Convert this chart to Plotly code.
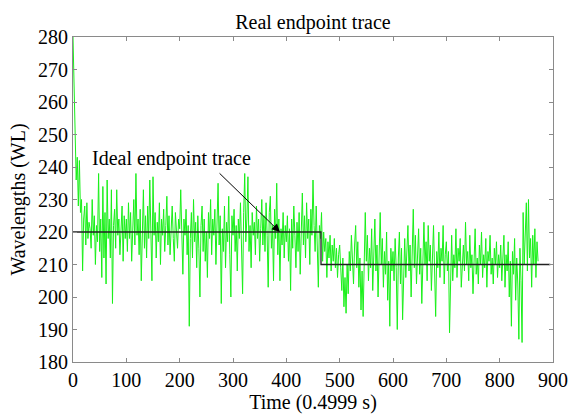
import plotly.graph_objects as go

# Real endpoint trace, sampled every 2 time units (0 .. 872)
time = list(range(0, 873, 2))
real = [
    # 0-98
    280, 265, 247, 236, 243, 228, 242, 226, 230, 208, 224, 228, 216, 229, 218, 223, 221, 215, 230, 219,
    225, 210, 222, 217, 238, 214, 224, 206, 234, 212, 226, 204, 236, 218, 224, 212, 233, 198, 222, 227,
    215, 233, 219, 224, 213, 221, 228, 211, 225, 218,
    # 100-198
    224, 214, 229, 218, 226, 211, 222, 230, 216, 238, 219, 224, 213, 227, 205, 221, 233, 215, 225, 212,
    228, 218, 236, 220, 205, 237, 219, 226, 212, 223, 217, 229, 210, 224, 219, 227, 214, 222, 231, 216,
    225, 213, 221, 228, 218, 211, 226, 220, 215, 224,
    # 200-298
    221, 233, 216, 207, 224, 219, 227, 213, 222, 191, 218, 226, 212, 230, 217, 223, 209, 225, 215, 200,
    222, 228, 214, 224, 211, 220, 206, 226, 218, 230, 213, 224, 219, 227, 210, 222, 235, 216, 225, 198,
    221, 214, 228, 209, 223, 217, 231, 213, 200, 225,
    # 300-398
    219, 227, 214, 222, 208, 224, 218, 229, 212, 201, 226, 238, 217, 224, 237, 214, 222, 209, 226, 219,
    223, 213, 228, 218, 224, 211, 221, 230, 216, 225, 214, 229, 219, 203, 226, 231, 215, 222, 205, 227,
    218, 235, 213, 224, 205, 221, 216, 226, 212, 222,
    # 400-498
    217, 225, 211, 221, 202, 224, 215, 228, 219, 209, 223, 214, 226, 207, 220, 232, 216, 225, 212, 229,
    218, 224, 210, 227, 219, 236, 222, 214, 228, 216, 203, 222, 218, 226, 211, 220, 214, 218, 206, 217,
    212, 219, 208, 216, 211, 218, 209, 215, 206, 213,
    # 500-598
    216, 209, 202, 212, 197, 206, 195, 210, 201, 214, 208, 219, 211, 204, 216, 222, 209, 217, 203, 212,
    196, 208, 194, 213, 226, 211, 219, 205, 215, 209, 221, 202, 213, 224, 208, 216, 200, 212, 226, 210,
    218, 203, 214, 207, 220, 199, 211, 191, 215, 208,
    # 600-698
    214, 205, 218, 209, 190, 212, 220, 204, 215, 193, 210, 218, 206, 214, 222, 208, 216, 200, 213, 227,
    209, 219, 204, 214, 221, 207, 215, 198, 212, 223, 210, 217, 205, 222, 211, 216, 202, 213, 222, 208,
    194, 214, 209, 220, 206, 215, 211, 222, 204, 213,
    # 700-798
    217, 208, 214, 189, 211, 219, 205, 213, 209, 221, 206, 215, 211, 218, 203, 212, 216, 208, 223, 210,
    214, 205, 219, 209, 213, 201, 215, 221, 207, 212, 204, 216, 210, 220, 206, 213, 209, 218, 203, 214,
    211, 219, 207, 212, 204, 215, 210, 217, 206, 213,
    # 800-872
    209, 216, 205, 212, 219, 203, 213, 208, 217, 200, 211, 191, 214, 207, 218, 199, 212, 204, 187, 215,
    205, 186, 226, 210, 221, 229, 208, 230, 212, 218, 203, 219, 210, 221, 206, 217, 211,
]

# Ideal endpoint trace (step)
ideal_time = [0, 465, 465, 895]
ideal_val = [220, 220, 210, 210]

x_ticks = [0, 100, 200, 300, 400, 500, 600, 700, 800, 900]
y_ticks = [180, 190, 200, 210, 220, 230, 240, 250, 260, 270, 280]

FONT = "Liberation Serif"

fig = go.Figure()
fig.add_trace(go.Scatter(x=time, y=real, mode="lines",
                         line=dict(color="#19f019", width=1), showlegend=False,
                         hoverinfo="skip"))
fig.add_trace(go.Scatter(x=ideal_time, y=ideal_val, mode="lines",
                         line=dict(color="#222222", width=1.3), showlegend=False,
                         hoverinfo="skip"))

# Label and arrow
fig.add_annotation(x=185, y=242.5, xref="x", yref="y", text="Ideal endpoint trace",
                   showarrow=False, font=dict(family=FONT, size=20, color="black"),
                   xanchor="center", yanchor="middle")
fig.add_annotation(x=388, y=220, xref="x", yref="y", ax=272, ay=238.5,
                   axref="x", ayref="y", text="", showarrow=True,
                   arrowhead=2, arrowsize=1.6, arrowwidth=1, arrowcolor="black")

axis_common = dict(showline=True, linecolor="#8a8a8a", linewidth=1.2, mirror="ticks",
                   ticks="inside", ticklen=4, tickcolor="#8a8a8a", showgrid=False,
                   zeroline=False, automargin=False,
                   tickfont=dict(family=FONT, size=20, color="black"))

fig.update_layout(
    width=568, height=417,
    margin=dict(l=73, r=15, t=37, b=55),
    paper_bgcolor="white", plot_bgcolor="white",
    font=dict(family=FONT, size=20, color="black"),
    title=dict(text="Real endpoint trace", x=0.551, xanchor="center",
               y=1 - 22 / 417, yanchor="middle", yref="container",
               font=dict(family=FONT, size=20, color="black")),
    xaxis=dict(range=[0, 900], tickvals=x_ticks, ticktext=[str(v) for v in x_ticks],
               title=dict(text="Time (0.4999 s)", standoff=2,
                          font=dict(family=FONT, size=20)),
               **axis_common),
    yaxis=dict(range=[180, 280], tickvals=y_ticks, ticktext=[str(v) for v in y_ticks],
               title=dict(text="Wavelengths (WL)", standoff=6,
                          font=dict(family=FONT, size=20)),
               **axis_common),
)

fig.write_html("out.html")
